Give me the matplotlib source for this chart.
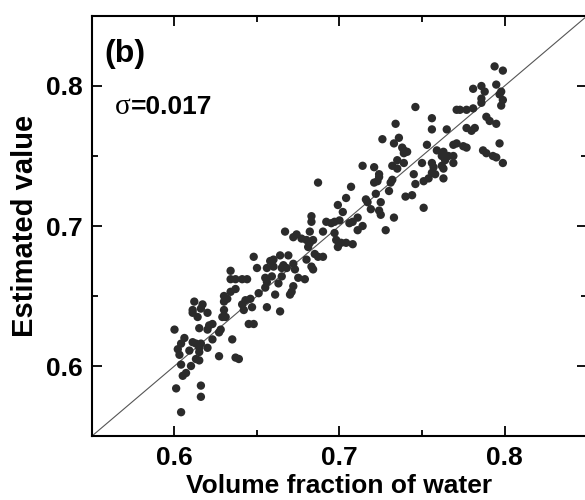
import numpy as np
import matplotlib
matplotlib.use('Agg')
import matplotlib.pyplot as plt

water_frac = [
    0.648, 0.650, 0.634, 0.634, 0.637, 0.641, 0.644, 0.651, 0.637, 0.634,
    0.630, 0.632, 0.630, 0.646, 0.643, 0.641, 0.642, 0.647, 0.612, 0.617,
    0.611, 0.616, 0.611, 0.620, 0.614, 0.630, 0.629, 0.631, 0.645, 0.648,
    0.623, 0.621, 0.620, 0.615, 0.600, 0.628, 0.627, 0.606, 0.604, 0.611,
    0.613, 0.616, 0.623, 0.635, 0.602, 0.603, 0.609, 0.615, 0.615, 0.620,
    0.604, 0.610, 0.613, 0.615, 0.627, 0.637, 0.639, 0.607, 0.605, 0.601,
    0.616, 0.616, 0.604,
    0.687, 0.699, 0.702, 0.683, 0.683, 0.692, 0.695, 0.697, 0.700, 0.667,
    0.682, 0.690, 0.672, 0.674, 0.677, 0.680, 0.682, 0.684, 0.697, 0.698,
    0.701, 0.699, 0.681, 0.664, 0.669, 0.660, 0.658, 0.685, 0.687, 0.690,
    0.680, 0.656, 0.660, 0.666, 0.668, 0.672, 0.665, 0.683, 0.684, 0.673,
    0.655, 0.659, 0.665, 0.675, 0.679, 0.663, 0.656, 0.655, 0.672, 0.671,
    0.670, 0.661, 0.656, 0.664,
    0.746, 0.734, 0.726, 0.736, 0.733, 0.738, 0.739, 0.739, 0.741, 0.753,
    0.735, 0.739, 0.750, 0.714, 0.721, 0.732, 0.735, 0.724, 0.724, 0.723,
    0.721, 0.732, 0.731, 0.730, 0.745, 0.746, 0.751, 0.754, 0.707, 0.704,
    0.722, 0.740, 0.744, 0.716, 0.717, 0.725, 0.751, 0.719, 0.724, 0.725,
    0.711, 0.733, 0.706, 0.708, 0.711, 0.714, 0.728, 0.704, 0.708,
    0.794, 0.799, 0.781, 0.786, 0.795, 0.788, 0.798, 0.797, 0.786, 0.786,
    0.799, 0.798, 0.771, 0.773, 0.777, 0.781, 0.756, 0.789, 0.791, 0.795,
    0.756, 0.765, 0.777, 0.780, 0.782, 0.771, 0.769, 0.775, 0.777, 0.797,
    0.759, 0.763, 0.762, 0.766, 0.769, 0.764, 0.787, 0.789, 0.793, 0.795,
    0.799, 0.756, 0.757, 0.762, 0.763, 0.769, 0.756, 0.758, 0.763,
]
estimated = [
    0.678, 0.670, 0.668, 0.662, 0.662, 0.662, 0.662, 0.652, 0.655, 0.653,
    0.650, 0.648, 0.646, 0.648, 0.647, 0.644, 0.640, 0.642, 0.646, 0.644,
    0.640, 0.641, 0.638, 0.638, 0.635, 0.640, 0.635, 0.635, 0.630, 0.630,
    0.630, 0.629, 0.626, 0.627, 0.626, 0.626, 0.624, 0.620, 0.616, 0.617,
    0.616, 0.616, 0.619, 0.619, 0.612, 0.608, 0.611, 0.613, 0.610, 0.613,
    0.601, 0.600, 0.605, 0.604, 0.607, 0.606, 0.605, 0.595, 0.593, 0.584,
    0.586, 0.578, 0.567,
    0.731, 0.715, 0.710, 0.707, 0.703, 0.703, 0.702, 0.703, 0.704, 0.696,
    0.696, 0.696, 0.692, 0.694, 0.691, 0.690, 0.688, 0.690, 0.695, 0.690,
    0.688, 0.685, 0.685, 0.679, 0.679, 0.676, 0.675, 0.680, 0.678, 0.678,
    0.676, 0.670, 0.671, 0.672, 0.670, 0.673, 0.670, 0.671, 0.669, 0.669,
    0.663, 0.664, 0.664, 0.663, 0.662, 0.659, 0.660, 0.656, 0.657, 0.653,
    0.651, 0.651, 0.642, 0.639,
    0.785, 0.773, 0.762, 0.763, 0.759, 0.756, 0.754, 0.752, 0.753, 0.758,
    0.747, 0.745, 0.745, 0.743, 0.742, 0.743, 0.741, 0.737, 0.735, 0.732,
    0.731, 0.733, 0.731, 0.725, 0.737, 0.730, 0.732, 0.734, 0.728, 0.720,
    0.723, 0.721, 0.722, 0.719, 0.717, 0.717, 0.713, 0.712, 0.711, 0.708,
    0.706, 0.706, 0.702, 0.703, 0.697, 0.700, 0.697, 0.688, 0.687,
    0.814, 0.811, 0.798, 0.800, 0.801, 0.796, 0.796, 0.794, 0.791, 0.788,
    0.790, 0.786, 0.783, 0.783, 0.783, 0.784, 0.777, 0.778, 0.775, 0.773,
    0.769, 0.769, 0.770, 0.768, 0.770, 0.759, 0.758, 0.757, 0.756, 0.759,
    0.754, 0.753, 0.750, 0.750, 0.750, 0.747, 0.754, 0.752, 0.750, 0.749,
    0.745, 0.745, 0.742, 0.743, 0.741, 0.745, 0.738, 0.737, 0.734,
]
axis_range = [0.55, 0.85]
tick_vals = [0.6, 0.7, 0.8]
sigma_text = '=0.017'
panel_label = '(b)'

plt.rcParams['font.family'] = ['Liberation Sans', 'DejaVu Sans']
plt.rcParams['font.weight'] = 'bold'

fig = plt.figure(figsize=(5.85, 5.0), dpi=100)
ax = fig.add_axes([92 / 585, 64 / 500, 495 / 585, 420 / 500])

# y = x reference line
ax.plot(axis_range, axis_range, color='#555555', lw=0.8, zorder=1)
ax.scatter(water_frac, estimated, s=36, color='#2b2b2b', edgecolors='none', zorder=2)

ax.set_xlim(axis_range)
ax.set_ylim(axis_range)
ax.set_xticks(tick_vals)
ax.set_yticks(tick_vals)
ax.set_xticks([0.65, 0.75], minor=True)
ax.set_yticks([0.65, 0.75], minor=True)
ax.tick_params(which='both', direction='in', top=True, right=True, width=1.3)
ax.tick_params(which='major', length=7, labelsize=19, pad=7)
ax.tick_params(which='minor', length=4)
for lab in ax.get_xticklabels() + ax.get_yticklabels():
    lab.set_fontweight('bold')
for sp in ax.spines.values():
    sp.set_linewidth(1.5)

ax.set_xlabel('Volume fraction of water', fontsize=19, fontweight='bold', labelpad=3)
ax.set_ylabel('Estimated value', fontsize=21, fontweight='bold', labelpad=5)

ax.text(0.026, 0.91, panel_label, transform=ax.transAxes, fontsize=23,
        fontweight='bold', va='center', ha='left')
ax.text(0.047, 0.783, '\u03c3', transform=ax.transAxes, fontsize=21,
        family='Liberation Serif', fontweight='normal', va='center', ha='left')
ax.text(0.079, 0.783, sigma_text, transform=ax.transAxes, fontsize=19,
        fontweight='bold', va='center', ha='left')

fig.savefig('out.png', dpi=100)
